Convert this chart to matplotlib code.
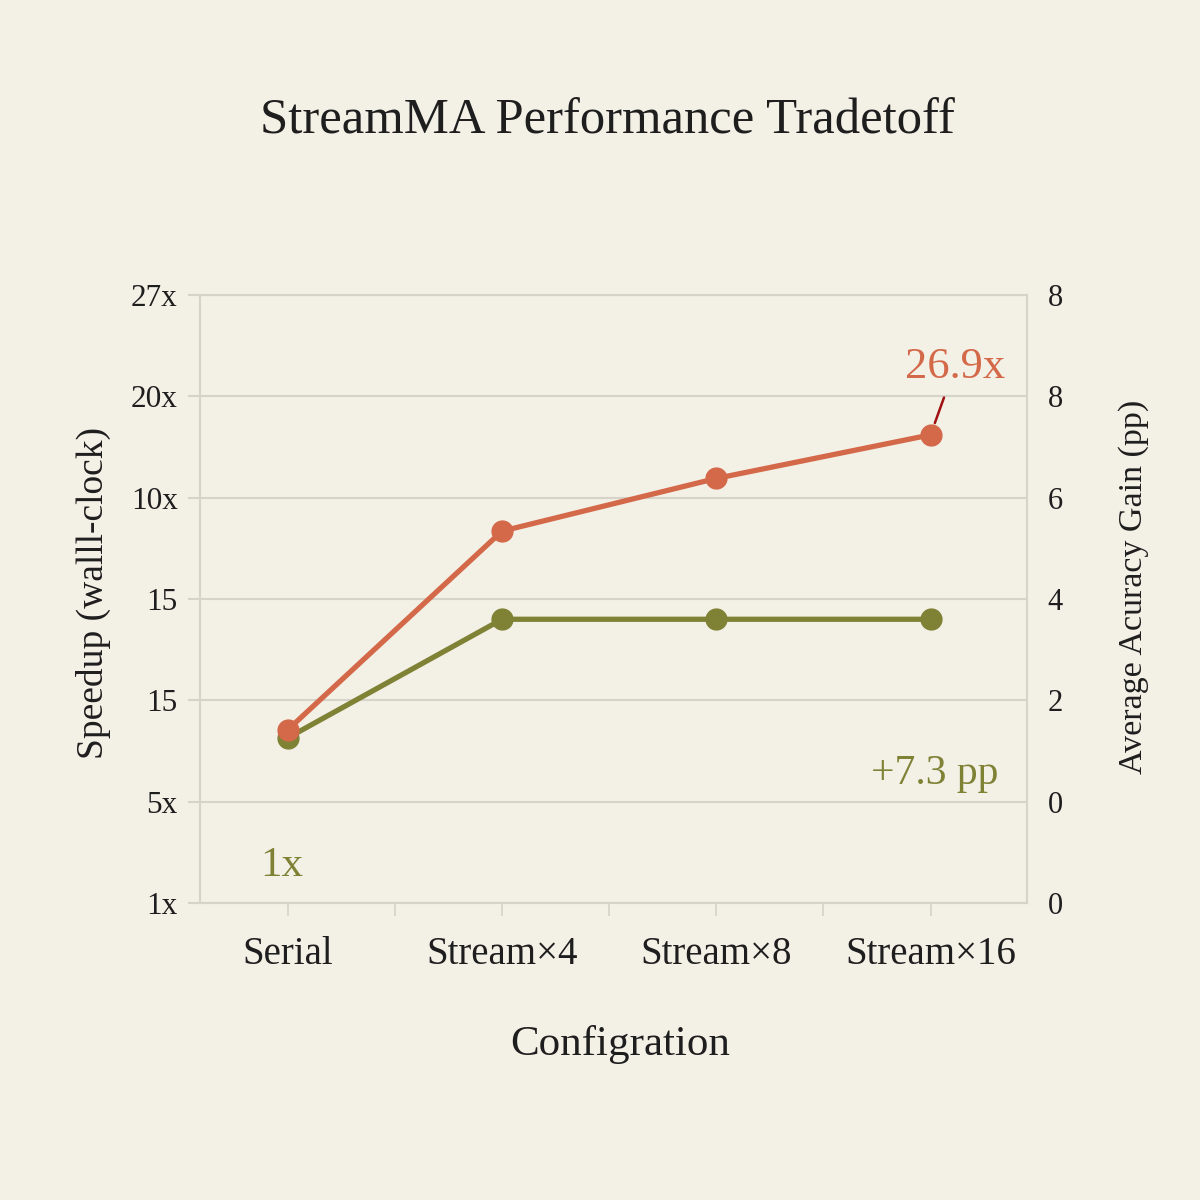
#!/usr/bin/env python3
"""StreamMA speedup vs. accuracy gain line chart."""

import matplotlib
matplotlib.use("Agg")
import matplotlib.pyplot as plt

# Data (values read in the chart's tick-position units)
configs = ["Serial", "Stream×4", "Stream×8", "Stream×16"]
speedup = [1.71, 3.67, 4.19, 4.62]
acc_gain = [1.63, 2.80, 2.80, 2.80]

left_labels = ["1x", "5x", "15", "15", "10x", "20x", "27x"]
right_labels = ["0", "0", "2", "4", "6", "8", "8"]

BG = "#F3F0E6"
RED = "#D4694A"
GREEN = "#7F8235"
GRID = "#D6D3CB"
TXT = "#1E1E1E"

plt.rcParams["font.family"] = ["Liberation Serif", "DejaVu Serif"]

fig = plt.figure(figsize=(12, 12), dpi=100, facecolor=BG)
ax = fig.add_axes([200 / 1200, 1 - 903 / 1200, 827 / 1200, 608 / 1200])
ax.set_facecolor(BG)

x = list(range(len(configs)))
ax.plot(x, acc_gain, color=GREEN, lw=3.8, marker="o", ms=15, zorder=3)
ax.plot(x, speedup, color=RED, lw=3.8, marker="o", ms=15, zorder=4)

ax.set_xlim(-0.41, 3.45)
ax.set_ylim(0, 6)

ax.set_yticks(range(len(left_labels)))
ax.set_yticklabels(left_labels)
ax.yaxis.grid(True, color=GRID, lw=1.5)
ax.tick_params(axis="y", length=9, width=1.5, color=GRID, pad=7,
               labelsize=22.5, labelcolor=TXT)

ax.set_xticks(x)
ax.set_xticklabels(configs)
ax.set_xticks([0.5, 1.5, 2.5], minor=True)
ax.tick_params(axis="x", which="both", length=9, width=1.2, color=GRID,
               pad=15, labelsize=28, labelcolor=TXT)

for sp in ax.spines.values():
    sp.set_color(GRID)
    sp.set_linewidth(1.5)

ax2 = ax.twinx()
ax2.set_ylim(0, 6)
ax2.set_yticks(range(len(right_labels)))
ax2.set_yticklabels(right_labels)
ax2.tick_params(axis="y", length=0, pad=15, labelsize=22, labelcolor=TXT)
for sp in ax2.spines.values():
    sp.set_visible(False)

ax.set_ylabel("Speedup (walll-clock)", fontsize=27, color=TXT)
ax.yaxis.set_label_coords(-0.108, 0.51)
ax2.set_ylabel("Average Acuracy Gain (pp)", fontsize=24.5, color=TXT)
ax2.yaxis.set_label_coords(1.11, 0.52)
ax.set_xlabel("Configration", fontsize=31, color=TXT)
ax.xaxis.set_label_coords(0.508, -0.2)

fig.text(0.506, 1 - 121 / 1200, "StreamMA Performance Tradetoff",
         fontsize=36.5, color=TXT, ha="center", va="center")

# Annotations
ax.annotate("26.9x", xy=(3, speedup[3]), xytext=(3.114, 5.29),
            fontsize=32, color=RED, ha="center", va="center",
            arrowprops=dict(arrowstyle="-", color="#A01010", lw=1.8,
                            shrinkA=6, shrinkB=9), zorder=5)
ax.text(3.021, 1.28, "+7.3 pp", fontsize=30, color=GREEN,
        ha="center", va="center")
ax.text(-0.027, 0.365, "1x", fontsize=31, color=GREEN,
        ha="center", va="center")

fig.savefig("out.png", dpi=100, facecolor=BG)
